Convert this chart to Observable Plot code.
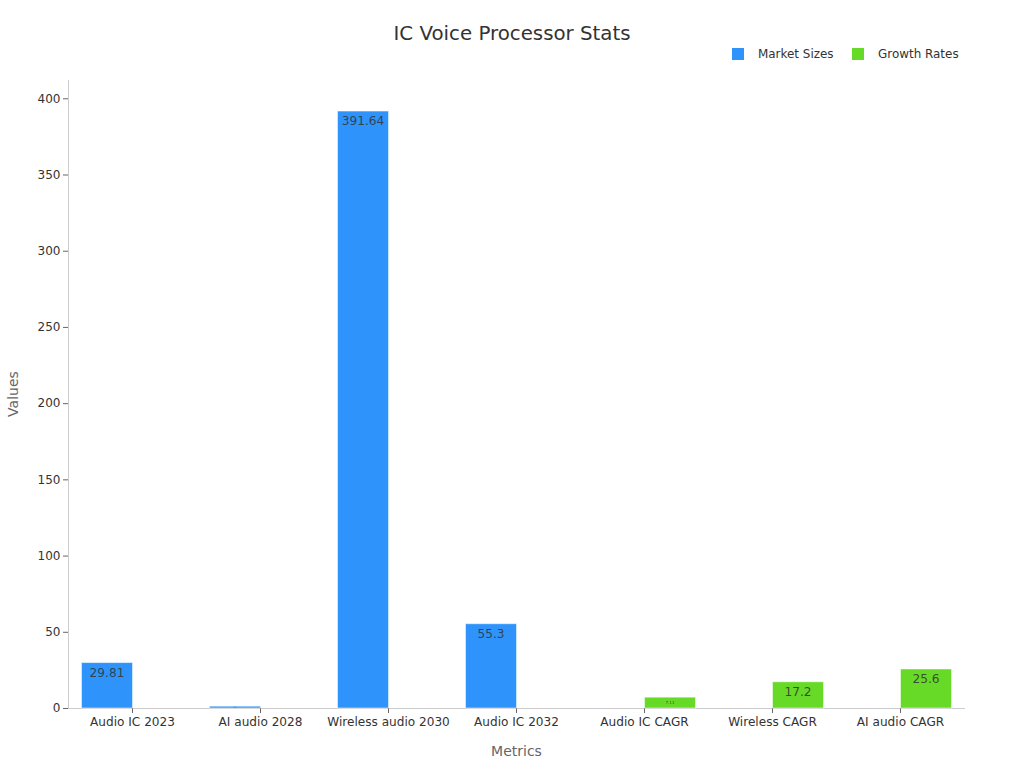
<!DOCTYPE html>
<html><head><meta charset="utf-8">
<script src="https://cdn.jsdelivr.net/npm/d3@7"></script>
<script src="https://cdn.jsdelivr.net/npm/@observablehq/plot@0.6"></script>
<style>
html,body{margin:0;padding:0;background:#fff;font-family:"DejaVu Sans",sans-serif;}
#wrap{opacity:0.999;}
#title{height:46px;padding-top:21px;box-sizing:border-box;text-align:center;font-size:19.8px;line-height:26px;color:#333;}
#legend{height:24px;position:relative;font-size:11.95px;line-height:16px;color:#333;}
#legend span{position:absolute;top:0;}
#legend i{position:absolute;top:1.5px;width:12px;height:12px;}
svg{display:block;}
</style></head><body>
<div id="wrap">
<div id="title">IC Voice Processor Stats</div>
<div id="legend">
<i style="left:732px;background:#2E93FA"></i><span style="left:758px">Market Sizes</span>
<i style="left:852px;background:#66DA26"></i><span style="left:878px">Growth Rates</span>
</div>
<div id="chart"></div>
</div>
<script>
const categories = ["Audio IC 2023","AI audio 2028","Wireless audio 2030","Audio IC 2032","Audio IC CAGR","Wireless CAGR","AI audio CAGR"];
const marketSizes = [29.81, 1.2, 391.64, 55.3, null, null, null];
const growthRates = [null, null, null, null, 7.11, 17.2, 25.6];
const seriesNames = ["Market Sizes","Growth Rates"];
const seriesColors = ["#2E93FA","#66DA26"];

const rows = categories.flatMap((c,i)=>[
  {category:c, series:seriesNames[0], value:marketSizes[i]},
  {category:c, series:seriesNames[1], value:growthRates[i]}
]).filter(d=>d.value!=null);

const labelMark = (test, fontSize, dy) => Plot.text(rows.filter(test),{
  fx:"category",x:"series",y:"value",text:d=>String(d.value),fill:"#333",fillOpacity:0.85,
  fontSize,dy,lineAnchor:"middle"});

const chart = Plot.plot({
  width:1024, height:698,
  marginTop:10, marginBottom:60, marginLeft:68, marginRight:60,
  style:{fontFamily:"'DejaVu Sans',sans-serif",fontSize:"12px",background:"#fff"},
  fx:{domain:categories,padding:0,label:null},
  x:{domain:seriesNames,paddingInner:0,paddingOuter:0.25,axis:null},
  y:{domain:[0,412],ticks:d3.range(0,401,50)},
  color:{domain:seriesNames,range:seriesColors},
  marks:[
    Plot.frame({anchor:"left",stroke:"#ccc",facet:"super"}),
    Plot.frame({anchor:"bottom",stroke:"#ccc",facet:"super"}),
    Plot.axisY({ticks:d3.range(0,401,50),tickSize:5,tickPadding:3,stroke:"#666",fill:"#333",fontSize:12,label:null}),
    Plot.axisFx({anchor:"bottom",tickSize:5,tickPadding:4,stroke:"#666",fill:"#333",fontSize:12.1,label:null}),
    Plot.barY(rows,{fx:"category",x:"series",y:"value",fill:"series",stroke:"#fff",strokeOpacity:0.5,strokeWidth:1,dx:0.5}),
    labelMark(d=>d.value>=10,12.2,10),
    labelMark(d=>d.value>=2&&d.value<10,4,5),
    labelMark(d=>d.value<2,2,1)
  ]
});
// axis titles, added to the SVG as real text
const ns="http://www.w3.org/2000/svg";
const addTitle=(txt,transform)=>{const t=document.createElementNS(ns,"text");
  t.textContent=txt;t.setAttribute("transform",transform);t.setAttribute("text-anchor","middle");
  t.setAttribute("fill","#666");t.setAttribute("font-size","14");chart.appendChild(t);};
addTitle("Metrics","translate(516.5,686)");
addTitle("Values","translate(17.5,324) rotate(-90)");
document.getElementById("chart").appendChild(chart);
</script></body></html>
